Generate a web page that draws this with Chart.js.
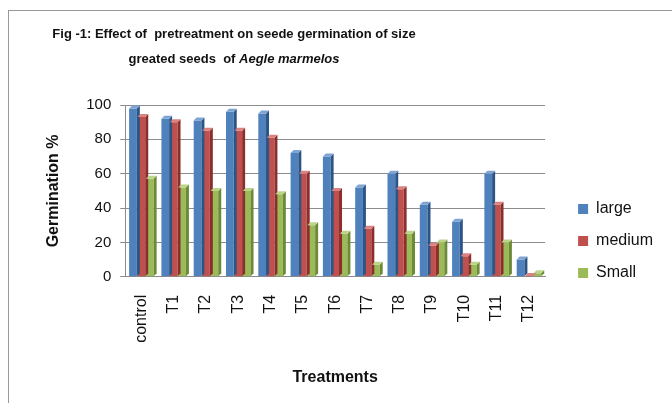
<!DOCTYPE html>
<html>
<head>
<meta charset="utf-8">
<script src="https://cdn.jsdelivr.net/npm/chart.js@4.4.1/dist/chart.umd.min.js"></script>
<style>
  html, body { margin: 0; padding: 0; background: #fff; }
  #wrap { position: relative; width: 672px; height: 403px; overflow: hidden; }
  #frame { position: absolute; left: 8px; top: 10px; width: 680px; height: 420px; border: 1px solid #999; box-sizing: border-box; }
  #title { position: absolute; left: 0; top: 21px; width: 468px; text-align: center; font-family: "Liberation Sans", Arial, sans-serif; font-weight: bold; font-size: 13px; line-height: 25px; color: #111; }
  canvas { position: absolute; left: 0; top: 0; }
</style>
</head>
<body>
<div id="wrap">
  <div id="frame"></div>
  <canvas id="chart" width="672" height="403"></canvas>
  <div id="title">Fig -1: Effect of&nbsp; pretreatment on seede germination of size<br>greated seeds&nbsp; of <i>Aegle marmelos</i></div>
</div>
<script>
const treatments = ["control", "T1", "T2", "T3", "T4", "T5", "T6", "T7", "T8", "T9", "T10", "T11", "T12"];
const large = [98, 92, 91, 96, 95, 72, 70, 52, 60, 42, 32, 60, 10];
const medium = [93, 90, 85, 85, 81, 60, 50, 28, 51, 18, 12, 42, 0.5];
const small = [57, 52, 50, 50, 48, 30, 25, 7, 25, 20, 7, 20, 2];
const yTicks = [0, 20, 40, 60, 80, 100];

// fake the 3D look: a darker side face and top face on each bar
const bar3d = {
  id: "bar3d",
  afterDatasetsDraw(chart) {
    const ctx = chart.ctx;
    const d = 3;
    chart.data.datasets.forEach((ds, i) => {
      const meta = chart.getDatasetMeta(i);
      meta.data.forEach(bar => {
        const left = bar.x - bar.width / 2;
        const right = bar.x + bar.width / 2;
        const top = bar.y;
        const bottom = bar.base;
        ctx.save();
        ctx.fillStyle = ds.sideColor;
        ctx.beginPath();
        ctx.moveTo(right, top);
        ctx.lineTo(right + d, top - d);
        ctx.lineTo(right + d, bottom - d);
        ctx.lineTo(right, bottom);
        ctx.closePath();
        ctx.fill();
        ctx.fillStyle = ds.topColor;
        ctx.beginPath();
        ctx.moveTo(left, top);
        ctx.lineTo(left + d, top - d);
        ctx.lineTo(right + d, top - d);
        ctx.lineTo(right, top);
        ctx.closePath();
        ctx.fill();
        ctx.restore();
      });
    });
  }
};

// push the legend a bit away from the plot, like the original
const legendShift = {
  id: "legendShift",
  afterLayout(chart) {
    const lg = chart.legend;
    lg.left += 17;
    lg.right += 17;
    lg.top -= 7;
    lg.bottom -= 7;
  }
};

const fam = "'Liberation Sans', Arial, sans-serif";
const font = { family: fam, size: 16 };

new Chart(document.getElementById("chart"), {
  type: "bar",
  data: {
    labels: treatments,
    datasets: [
      { label: "large", data: large, backgroundColor: "#4f81bd", sideColor: "#2c5586", topColor: "#7ea4d4" },
      { label: "medium", data: medium, backgroundColor: "#c0504d", sideColor: "#8b2e2c", topColor: "#d98280" },
      { label: "Small", data: small, backgroundColor: "#9bbb59", sideColor: "#6d8a36", topColor: "#bcd38a" }
    ]
  },
  options: {
    responsive: false,
    animation: false,
    layout: { padding: { top: 105, left: 40, right: 26, bottom: 12 } },
    datasets: { bar: { categoryPercentage: 0.78, barPercentage: 0.92 } },
    plugins: {
      title: { display: false },
      legend: {
        position: "right",
        labels: { color: "#111", font: font, boxWidth: 10, boxHeight: 10, padding: 16 }
      },
      tooltip: { enabled: false }
    },
    scales: {
      y: {
        min: 0,
        max: 100,
        afterBuildTicks: axis => { axis.ticks = yTicks.map(v => ({ value: v })); },
        grid: { color: "#8c8c8c", drawTicks: true, tickLength: 5 },
        border: { color: "#8c8c8c" },
        ticks: { color: "#111", font: { family: fam, size: 15 }, padding: 9 },
        title: { display: true, text: "Germination %", color: "#111", font: { family: fam, size: 16, weight: "bold" }, padding: { top: 4, bottom: 14 } }
      },
      x: {
        grid: { display: false },
        border: { color: "#8c8c8c" },
        ticks: { color: "#111", font: { family: fam, size: 16 }, minRotation: 90, maxRotation: 90, padding: 10 },
        title: { display: true, text: "Treatments", color: "#111", font: { family: fam, size: 16, weight: "bold" }, padding: { top: 15, bottom: 4 } }
      }
    }
  },
  plugins: [bar3d, legendShift]
});
</script>
</body>
</html>
